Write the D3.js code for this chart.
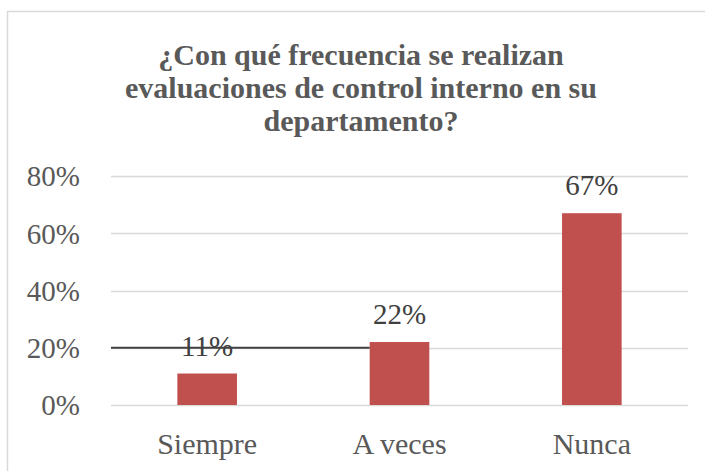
<!DOCTYPE html>
<html lang="es">
<head>
<meta charset="UTF-8">
<title>Control interno</title>
<script src="https://d3js.org/d3.v7.min.js"></script>
<style>
  body { margin: 0; background: #fff; }
  svg text { font-family: "Liberation Serif", Tinos, "Times New Roman", Times, "DejaVu Serif", serif; }
</style>
</head>
<body>
<svg id="chart" width="705" height="471"></svg>
<script>
// data
var categories = ["Siempre", "A veces", "Nunca"];
var values = [0.11, 0.22, 0.67];
var yTicks = [0, 0.2, 0.4, 0.6, 0.8];
var titleLines = ["¿Con qué frecuencia se realizan", "evaluaciones de control interno en su", "departamento?"];

var svg = d3.select("#chart"),
    width = +svg.attr("width"),
    height = +svg.attr("height");

var margin = { top: 176, right: 17, bottom: 66, left: 111 };
var serif = "'Liberation Serif', Tinos, 'Times New Roman', Times, 'DejaVu Serif', serif";

// chart frame
svg.append("rect")
    .attr("x", 7.5).attr("y", 11.5)
    .attr("width", 720).attr("height", 480)
    .attr("fill", "none")
    .attr("stroke", "#d9d9d9")
    .attr("stroke-width", 1.5);

// title
svg.append("g").selectAll("text")
    .data(titleLines)
    .join("text")
    .attr("x", 361)
    .attr("y", function (d, i) { return 65 + i * 33; })
    .attr("text-anchor", "middle")
    .attr("font-size", 30)
    .attr("font-weight", "bold")
    .style("font-family", serif)
    .style("fill", "#595959")
    .text(function (d) { return d; });

var x = d3.scaleBand()
    .domain(categories)
    .range([margin.left, width - margin.right])
    .paddingInner(0.69)
    .paddingOuter(0.345);

var y = d3.scaleLinear()
    .domain([0, 0.8])
    .range([height - margin.bottom, margin.top]);

// gridlines
svg.append("g")
    .selectAll("line")
    .data(yTicks)
    .join("line")
    .attr("x1", margin.left)
    .attr("x2", width - margin.right)
    .attr("y1", function (d) { return Math.round(y(d)) + 0.5; })
    .attr("y2", function (d) { return Math.round(y(d)) + 0.5; })
    .attr("stroke", "#d9d9d9")
    .attr("stroke-width", 1.5);

// y axis labels
var yAxis = d3.axisLeft(y)
    .tickValues(yTicks)
    .tickSize(0)
    .tickPadding(31)
    .tickFormat(d3.format(".0%"));

svg.append("g")
    .attr("transform", "translate(" + margin.left + ",0)")
    .call(yAxis)
    .call(function (g) { g.select(".domain").remove(); })
    .selectAll("text")
    .attr("font-size", 29)
    .style("font-family", serif)
    .style("fill", "#595959")
    .attr("dy", "0.34em");

// bars
svg.append("g")
    .selectAll("rect")
    .data(values)
    .join("rect")
    .attr("x", function (d, i) { return x(categories[i]); })
    .attr("y", function (d) { return y(d); })
    .attr("width", x.bandwidth())
    .attr("height", function (d) { return y(0) - y(d); })
    .attr("fill", "#c0504d");

// stray line across the 20% grid
svg.append("line")
    .attr("x1", margin.left)
    .attr("x2", x(categories[1]))
    .attr("y1", y(0.2))
    .attr("y2", y(0.2))
    .attr("stroke", "#404040")
    .attr("stroke-width", 2);

// data labels
svg.append("g")
    .selectAll("text")
    .data(values)
    .join("text")
    .attr("x", function (d, i) { return x(categories[i]) + x.bandwidth() / 2; })
    .attr("y", function (d) { return y(d) - 18; })
    .attr("text-anchor", "middle")
    .attr("font-size", 29)
    .style("font-family", serif)
    .style("fill", "#404040")
    .text(d3.format(".0%"));

// category labels
var xAxis = d3.axisBottom(x).tickSize(0).tickPadding(0);
svg.append("g")
    .attr("transform", "translate(0," + y(0) + ")")
    .call(xAxis)
    .call(function (g) { g.select(".domain").remove(); })
    .selectAll("text")
    .attr("font-size", 30)
    .style("font-family", serif)
    .style("fill", "#595959")
    .attr("dy", "1.62em");
</script>
</body>
</html>
